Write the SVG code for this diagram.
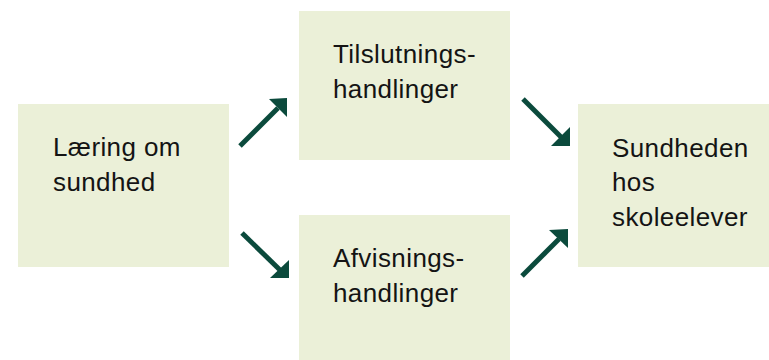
<svg xmlns="http://www.w3.org/2000/svg" width="769" height="360" viewBox="0 0 769 360">
<defs>
<style>
.box{fill:#ebf0d8}
.t{font-family:"Liberation Sans",Arial,sans-serif;font-size:26px;fill:#141414;letter-spacing:0.4px}
.ln{stroke:#0b4a3c;stroke-width:5;fill:none}
.hd{fill:#0b4a3c}
</style>
</defs>
<g id="n1"><rect class="box" x="18" y="104" width="211" height="163"/>
<text class="t" x="53" y="156">Læring om</text><text class="t" x="53" y="191">sundhed</text></g>
<g id="n2"><rect class="box" x="299" y="11" width="211" height="149"/>
<text class="t" x="333" y="63">Tilslutnings-</text><text class="t" x="333" y="98">handlinger</text></g>
<g id="n3"><rect class="box" x="299" y="215" width="211" height="145"/>
<text class="t" x="333" y="267">Afvisnings-</text><text class="t" x="333" y="302">handlinger</text></g>
<g id="n4"><rect class="box" x="578" y="104" width="191" height="163"/>
<text class="t" x="612" y="157">Sundheden</text><text class="t" x="612" y="191">hos</text><text class="t" x="612" y="226">skoleelever</text></g>
<g id="connectors">
<line class="ln" x1="240" y1="146" x2="278" y2="108"/><polygon class="hd" points="287,98 269,99 287,117"/>
<line class="ln" x1="242" y1="233" x2="280" y2="270"/><polygon class="hd" points="289,278 270,278 289,260"/>
<line class="ln" x1="523" y1="99" x2="561" y2="137"/><polygon class="hd" points="570,146 551,146 570,127"/>
<line class="ln" x1="522" y1="276" x2="559" y2="239"/><polygon class="hd" points="568,229 549,230 568,248"/>
</g>
</svg>
